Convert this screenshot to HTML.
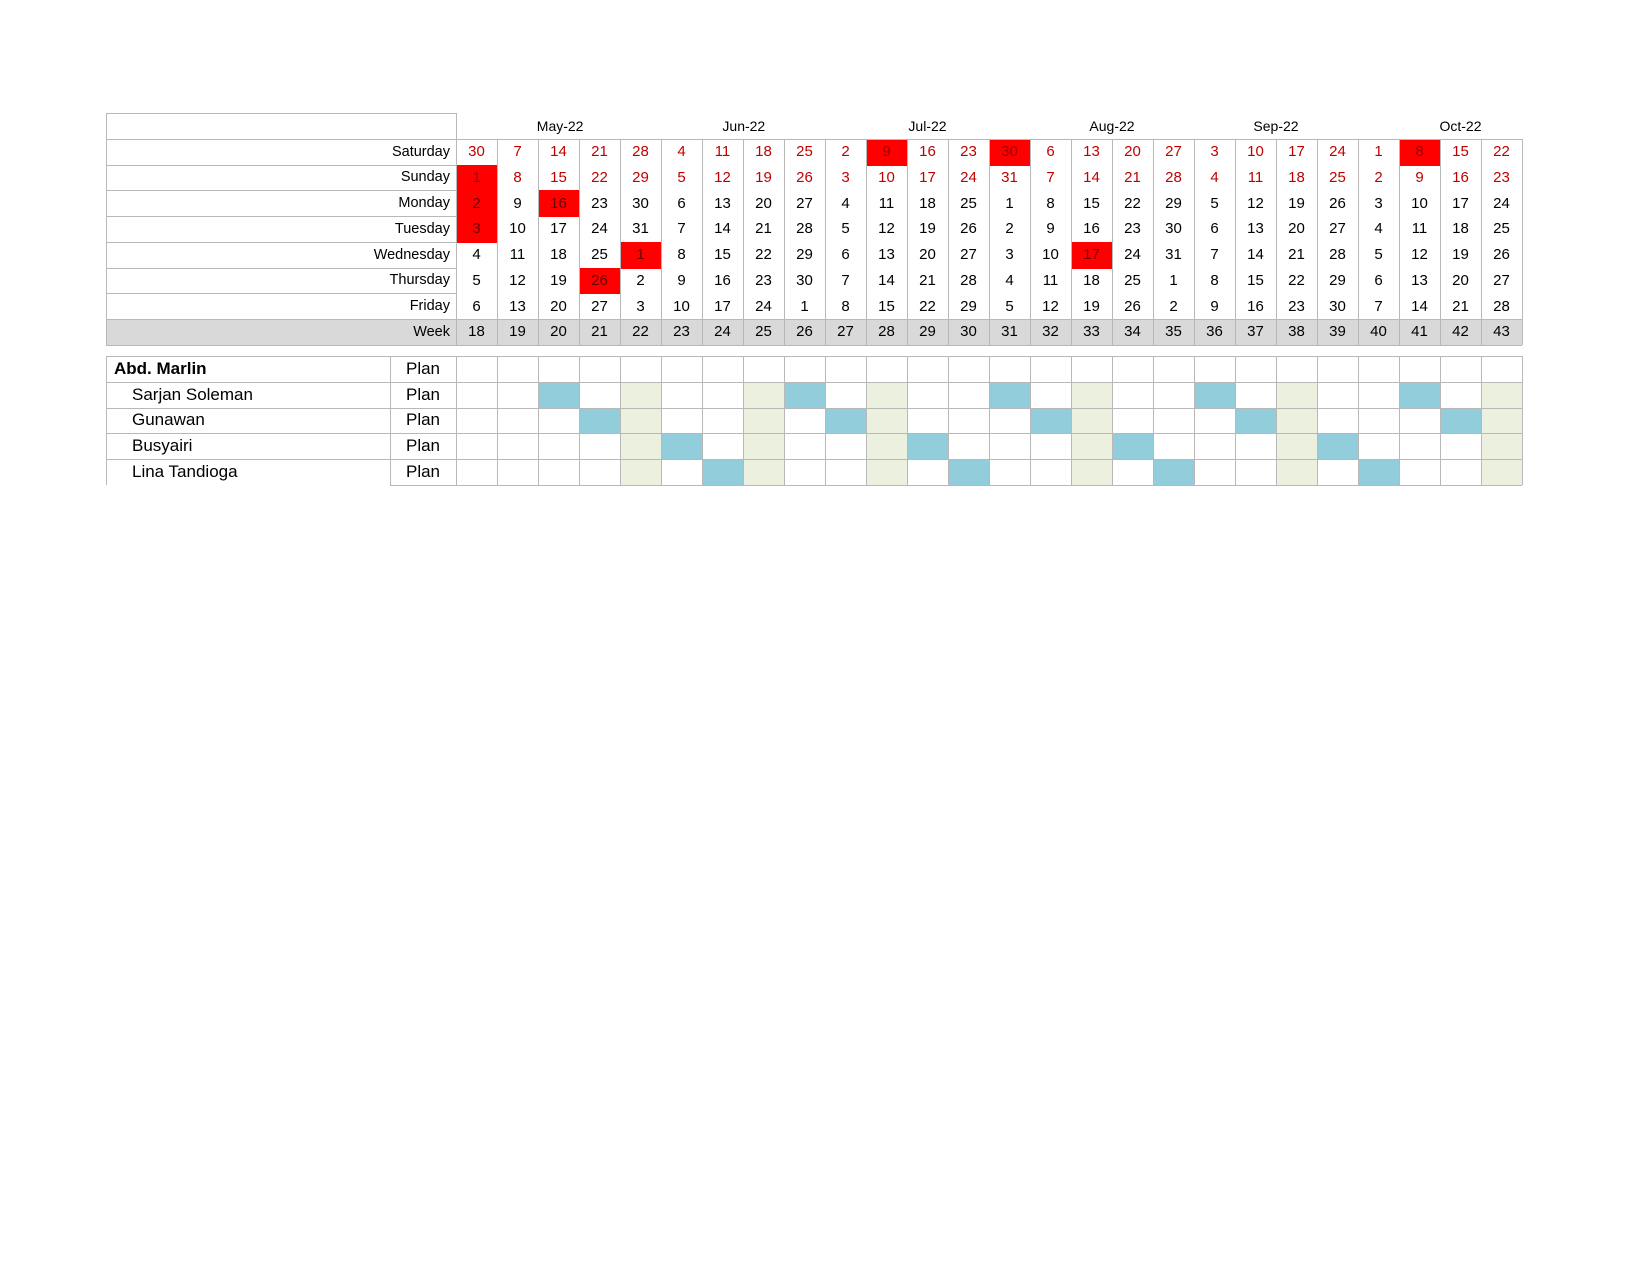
<!DOCTYPE html>
<html><head><meta charset="utf-8"><style>
body{margin:0;background:#fff;width:1650px;height:1275px;position:relative;overflow:hidden;font-family:"Liberation Sans",sans-serif}
.c{position:absolute;box-sizing:border-box;display:flex;align-items:center;justify-content:center;font-size:15px;color:#000}
.ln{position:absolute;background:#b8b8b8}
</style></head><body>
<div id="root"></div>
<script>
const months=["May-22","Jun-22","Jul-22","Aug-22","Sep-22","Oct-22"];
const monthCenters=[2.54,7.02,11.5,16.0,20.0,24.5];
const dayNames=["Saturday","Sunday","Monday","Tuesday","Wednesday","Thursday","Friday"];
const sat=[30,7,14,21,28,4,11,18,25,2,9,16,23,30,6,13,20,27,3,10,17,24,1,8,15,22];
const sun=[1,8,15,22,29,5,12,19,26,3,10,17,24,31,7,14,21,28,4,11,18,25,2,9,16,23];
const mon=[2,9,16,23,30,6,13,20,27,4,11,18,25,1,8,15,22,29,5,12,19,26,3,10,17,24];
const tue=[3,10,17,24,31,7,14,21,28,5,12,19,26,2,9,16,23,30,6,13,20,27,4,11,18,25];
const wed=[4,11,18,25,1,8,15,22,29,6,13,20,27,3,10,17,24,31,7,14,21,28,5,12,19,26];
const thu=[5,12,19,26,2,9,16,23,30,7,14,21,28,4,11,18,25,1,8,15,22,29,6,13,20,27];
const fri=[6,13,20,27,3,10,17,24,1,8,15,22,29,5,12,19,26,2,9,16,23,30,7,14,21,28];
const weeks=[18,19,20,21,22,23,24,25,26,27,28,29,30,31,32,33,34,35,36,37,38,39,40,41,42,43];
const holidays=[[1,0],[2,0],[3,0],[2,2],[5,3],[4,4],[0,10],[0,13],[4,15],[0,23]];
const people=["Abd. Marlin","Sarjan Soleman","Gunawan","Busyairi","Lina Tandioga"];
const blueWeeks=[[],[20,26,31,36,41],[21,27,32,37,42],[23,29,34,39],[24,30,35,40]];
const beigeWeeks=[22,25,28,33,38,43];

const R=document.getElementById('root');
const L=106,LE=456,CW=41,T0=113,RH=25.75,B0=356,BH=25.8,NE=390;
const X=i=>LE+i*CW;
function cell(x,y,w,h,txt,st){const d=document.createElement('div');d.className='c';
d.style.cssText+=`left:${x}px;top:${y}px;width:${w}px;height:${h}px;`+(st||'');d.textContent=txt;R.appendChild(d);return d;}
function line(x,y,w,h){const d=document.createElement('div');d.className='ln';
d.style.cssText=`left:${x}px;top:${y}px;width:${w}px;height:${h}px`;


R.appendChild(d);}
months.forEach((m,i)=>{const d=cell(X(monthCenters[i])-50,T0,100,RH,m,'font-size:14px');

});
const rows=[sat,sun,mon,tue,wed,thu,fri];
holidays.forEach(([r,c])=>{const d=cell(X(c),T0+RH*(r+1),CW,RH+1,'','background:#ff0000');

});
const wy=T0+RH*8;
const wb=cell(L,wy,X(26)-L,RH,'','background:#d9d9d9');


rows.forEach((arr,r)=>{const y=T0+RH*(r+1);
const lb=cell(L,y,LE-L-6,RH,dayNames[r],'justify-content:flex-end;font-size:14.5px');


arr.forEach((v,i)=>{const red=holidays.some(h=>h[0]==r&&h[1]==i);
const col=r<2?(red?'#a00000':'#c00000'):(red?'#600':'#000');
const d=cell(X(i),y,CW,RH,v,'color:'+col);

});});
const wl=cell(L,wy,LE-L-6,RH,'Week','justify-content:flex-end;font-size:14.5px');


weeks.forEach((w,i)=>{const d=cell(X(i),wy,CW,RH,w);

});
for(let r=0;r<=9;r++){const y=Math.round(T0+RH*r);
if(r==0)line(L,y,LE-L,1);else if(r==1)line(L,y,X(26)-L,1);else line(L,y,r==8||r==9?X(26)-L:LE-L,1);}
line(L,T0,1,RH*9);line(LE,T0,1,RH*9);
for(let i=1;i<=26;i++)line(X(i),T0+RH,1,RH*8);
beigeWeeks.forEach(w=>{const i=weeks.indexOf(w);
const d=cell(X(i),B0+BH,CW,BH*4,'','background:#ebf1de');

});
people.forEach((p,r)=>{const y=B0+BH*r;
const n=cell(L+(r?26:8),y,NE-L-30,BH,p,'justify-content:flex-start;font-size:17px;'+(r?'':'font-weight:bold'));


const pl=cell(NE,y,LE-NE,BH,'Plan','font-size:17px');


blueWeeks[r].forEach(w=>{const i=weeks.indexOf(w);
const b=cell(X(i),y,CW,BH,'','background:#92cddc');

});});
for(let r=0;r<=5;r++){const y=Math.round(B0+BH*r);line(r==5?NE:L,y,X(26)-(r==5?NE:L),1);}
line(L,B0,1,BH*5);line(NE,B0,1,BH*5);
for(let i=0;i<=26;i++)line(X(i),B0,1,BH*5);
</script>
</body></html>
